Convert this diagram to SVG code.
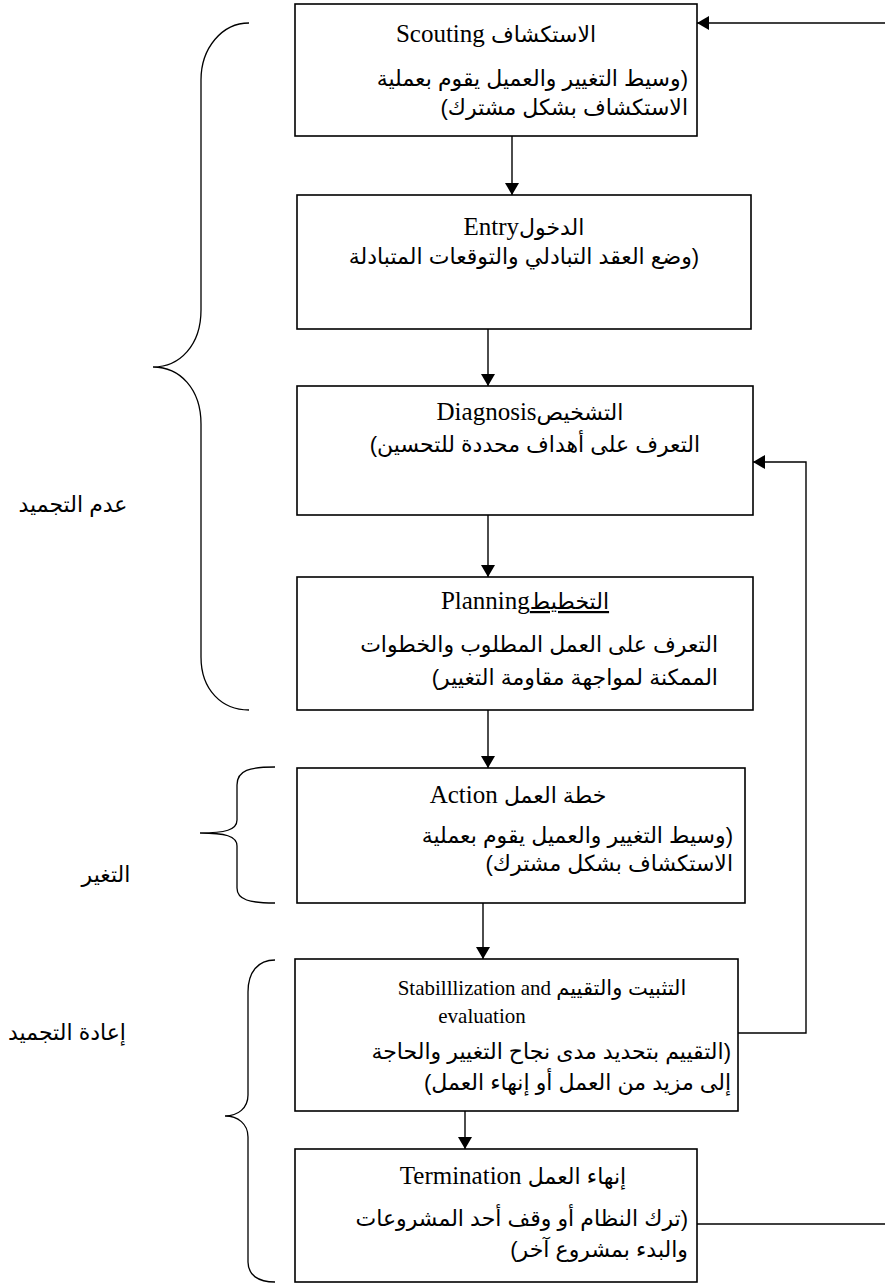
<svg xmlns="http://www.w3.org/2000/svg" width="885" height="1286" viewBox="0 0 885 1286">
<style>
.box{fill:#fff;stroke:#000;stroke-width:1.6}
.ln{fill:none;stroke:#000;stroke-width:1.4}
.br{fill:none;stroke:#000;stroke-width:1.3}
.t{font-family:"Liberation Serif","DejaVu Sans",serif;font-size:25px;fill:#000}
.ta{font-family:"Liberation Sans","DejaVu Sans",sans-serif;font-size:22px}
.a{font-family:"Liberation Sans","DejaVu Sans",sans-serif;font-size:22px;fill:#000}
.s{font-family:"Liberation Sans","DejaVu Sans",sans-serif;font-size:22px;fill:#000}
</style>
<defs>
<marker id="ah" markerWidth="12" markerHeight="14" refX="12" refY="7" orient="auto" markerUnits="userSpaceOnUse"><path d="M0,0 L12,7 L0,14 z" fill="#000"/></marker>
</defs>
<rect width="885" height="1286" fill="#fff"/>

<g id="braces">
<path class="br" d="M249,23 C222,23 201,48 201,80 L201,310 C201,345 180,367 153,367 C180,367 201,389 201,424 L201,657 C201,690 222,710 249,710"/>
<path class="br" d="M275,767 C250,767 237,770 237,785 L237,820 C237,830 225,833 200,833 C225,833 237,836 237,846 L237,888 C237,900 250,903 275,903"/>
<path class="br" d="M275,960 C258,960 248,972 248,992 L248,1095 C248,1108 238,1116 225,1116 C238,1116 248,1124 248,1137 L248,1262 C248,1275 258,1282 275,1282"/>
</g>
<g id="side-labels">
<text class="s" x="73" y="512" text-anchor="middle" direction="rtl">عدم التجميد</text>
<text class="s" x="106" y="882" text-anchor="middle" direction="rtl">التغير</text>
<text class="s" x="67" y="1040" text-anchor="middle" direction="rtl">إعادة التجميد</text>
</g>

<g id="connectors">
<line class="ln" x1="885" y1="23" x2="697" y2="23" marker-end="url(#ah)"/>
<line class="ln" x1="512" y1="136" x2="512" y2="195" marker-end="url(#ah)"/>
<line class="ln" x1="488" y1="329" x2="488" y2="386" marker-end="url(#ah)"/>
<line class="ln" x1="488" y1="515" x2="488" y2="577" marker-end="url(#ah)"/>
<line class="ln" x1="488" y1="710" x2="488" y2="768" marker-end="url(#ah)"/>
<line class="ln" x1="483" y1="903" x2="483" y2="959" marker-end="url(#ah)"/>
<line class="ln" x1="465" y1="1111" x2="465" y2="1149" marker-end="url(#ah)"/>
<polyline class="ln" points="738,1033 806,1033 806,462 753,462" marker-end="url(#ah)"/>
<line class="ln" x1="697" y1="1224" x2="885" y2="1224"/>
</g>

<g id="scouting">
<rect class="box" x="295" y="4" width="402" height="132"/>
<text class="t" x="496" y="42" text-anchor="middle" direction="rtl"><tspan class="ta">الاستكشاف</tspan> Scouting</text>
<text class="a" x="688" y="86" text-anchor="start" direction="rtl">(وسيط التغيير والعميل يقوم بعملية</text>
<text class="a" x="688" y="115" text-anchor="start" direction="rtl">الاستكشاف بشكل مشترك)</text>
</g>

<g id="entry">
<rect class="box" x="297" y="195" width="454" height="134"/>
<text class="t" x="524" y="235" text-anchor="middle" direction="rtl"><tspan class="ta">الدخول</tspan>Entry</text>
<text class="a" x="524" y="264" text-anchor="middle" direction="rtl">(وضع العقد التبادلي والتوقعات المتبادلة</text>
</g>

<g id="diagnosis">
<rect class="box" x="297" y="386" width="456" height="129"/>
<text class="t" x="530" y="420" text-anchor="middle" direction="rtl"><tspan class="ta">التشخيص</tspan>Diagnosis</text>
<text class="a" x="535" y="452" text-anchor="middle" direction="rtl">التعرف على أهداف محددة للتحسين)</text>
</g>

<g id="planning">
<rect class="box" x="297" y="577" width="456" height="133"/>
<text class="t" x="525" y="609" text-anchor="middle" direction="rtl"><tspan class="ta" text-decoration="underline">التخطيط</tspan>Planning</text>
<text class="a" x="718" y="652" text-anchor="start" direction="rtl">التعرف على العمل المطلوب والخطوات</text>
<text class="a" x="718" y="685" text-anchor="start" direction="rtl">الممكنة لمواجهة مقاومة التغيير)</text>
</g>

<g id="action">
<rect class="box" x="297" y="768" width="448" height="135"/>
<text class="t" x="518" y="803" text-anchor="middle" direction="rtl"><tspan class="ta">خطة العمل</tspan> Action</text>
<text class="a" x="733" y="843" text-anchor="start" direction="rtl">(وسيط التغيير والعميل يقوم بعملية</text>
<text class="a" x="733" y="871" text-anchor="start" direction="rtl">الاستكشاف بشكل مشترك)</text>
</g>

<g id="stabilization">
<rect class="box" x="295" y="959" width="443" height="152"/>
<text class="t" x="542" y="995" text-anchor="middle" direction="rtl" style="font-size:21px"><tspan class="ta" style="font-size:21px">التثبيت والتقييم</tspan>  Stabilllization and</text>
<text class="t" x="482" y="1023" text-anchor="middle" style="font-size:21px">evaluation</text>
<text class="a" x="731" y="1059" text-anchor="start" direction="rtl">(التقييم بتحديد مدى نجاح التغيير والحاجة</text>
<text class="a" x="731" y="1090" text-anchor="start" direction="rtl">إلى مزيد من العمل أو إنهاء العمل)</text>
</g>

<g id="termination">
<rect class="box" x="295" y="1149" width="402" height="133"/>
<text class="t" x="513" y="1184" text-anchor="middle" direction="rtl"><tspan class="ta">إنهاء العمل</tspan> Termination</text>
<text class="a" x="688" y="1226" text-anchor="start" direction="rtl">(ترك النظام أو وقف أحد المشروعات</text>
<text class="a" x="688" y="1257" text-anchor="start" direction="rtl">والبدء بمشروع آخر)</text>
</g>
</svg>
